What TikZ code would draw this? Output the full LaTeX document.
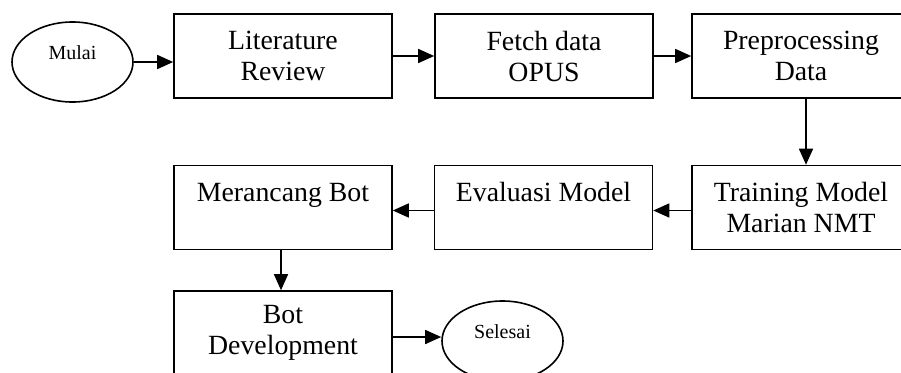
\documentclass[tikz,border=0pt]{standalone}
\usepackage{fontspec}
\setmainfont{Liberation Serif}
\usetikzlibrary{shapes.geometric,arrows.meta}
\tikzset{
  box/.style={draw, line width=1.6pt, minimum width=218pt, minimum height=84pt, inner sep=0pt, align=center, font=\fontsize{27.8}{31}\selectfont},
  oval/.style={draw, ellipse, line width=1.6pt, minimum width=121pt, minimum height=80pt, inner sep=0pt},
  small/.style={font=\fontsize{20}{22}\selectfont, inner sep=0pt},
  arr/.style={line width=1.6pt, -{Triangle[length=16pt,width=14pt]}}
}
\begin{document}
\begin{tikzpicture}[x=1pt,y=-1pt]
\useasboundingbox (0,0) rectangle (901,372);
\clip (0,0) rectangle (901,372);
\fill[white] (0,0) rectangle (901,372);
\node[oval] (mulai) at (72.5,62) {};
\node[small] (mulait) at (72.5,53) {Mulai};
\node[box] (lit) at (283,56) {Literature\\Review};
\node[box] (fetch) at (544,56) {Fetch data\\OPUS};
\node[box] (pre) at (801,56) {Preprocessing\\Data};
\node[box] (train) at (801,207.5) {Training Model\\Marian NMT};
\node[box] (eval) at (543.5,207.5) {Evaluasi Model\\\mbox{}};
\node[box] (bot) at (283,207.5) {Merancang Bot\\\mbox{}};
\node[box] (dev) at (283,333) {Bot\\Development};
\node[oval] (sel) at (502.5,341) {};
\node[small] (selt) at (502.5,332) {Selesai};
\draw[arr] (mulai.east) -- (lit.west |- mulai.east);
\draw[arr] (lit) -- (fetch);
\draw[arr] (fetch) -- (pre);
\draw[arr] ([xshift=5pt]pre.south) -- ([xshift=5pt]train.north);
\draw[arr] ([yshift=-3pt]train.west) -- ([yshift=-3pt]eval.east);
\draw[arr] ([yshift=-3pt]eval.west) -- ([yshift=-3pt]bot.east);
\draw[arr] ([xshift=-2pt]bot.south) -- ([xshift=-2pt]dev.north);
\draw[arr] ([yshift=-4pt]dev.east) -- ([yshift=-4pt]dev.east -| sel.west);
\end{tikzpicture}
\end{document}
